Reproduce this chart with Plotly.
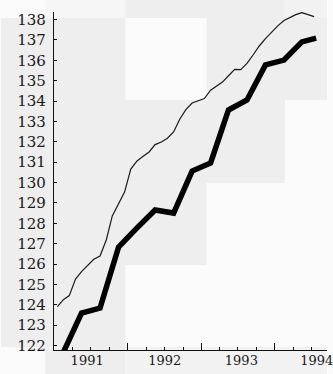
import pandas as pd
import plotly.graph_objects as go

# ---- data ----
monthly_dates = pd.date_range("1991-01-01", periods=43, freq="MS") + pd.Timedelta(days=14)
monthly_values = [
    123.91, 124.26, 124.45, 125.26, 125.63, 125.95, 126.23, 126.39, 127.18, 128.36,
    128.99, 129.53, 130.66, 131.06, 131.28, 131.50, 131.86, 131.99, 132.17, 132.48,
    133.12, 133.58, 133.90, 133.99, 134.12, 134.53, 134.72, 134.93, 135.24, 135.55,
    135.54, 135.85, 136.27, 136.70, 137.06, 137.38, 137.69, 137.95, 138.10, 138.24,
    138.34, 138.24, 138.14,
]
quarter_dates = [
    "1991-02-15", "1991-05-15", "1991-08-15", "1991-11-15",
    "1992-02-15", "1992-05-15", "1992-08-15", "1992-11-15",
    "1993-02-15", "1993-05-15", "1993-08-15", "1993-11-15",
    "1994-02-15", "1994-05-15", "1994-07-25",
]
quarter_values = [
    121.70, 123.59, 123.84, 126.83, 127.77, 128.65, 128.50, 130.56,
    130.96, 133.56, 134.05, 135.77, 136.01, 136.90, 137.09,
]
year_labels = ["1991", "1992", "1993", "1994"]
year_label_dates = ["1991-06-12", "1992-07-02", "1993-07-18", "1994-07-28"]

# ---- layout geometry (pixels) ----
W, H = 333, 374
L, R, T, B = 54, 0, 12, 24
PX0, PX1 = L, W - R
PY0, PY1 = T, H - B
XRANGE = ["1990-12-29", "1994-09-17"]


def rect(x0, y0, x1, y1, color):
    return dict(
        type="rect", xref="paper", yref="paper", layer="below",
        x0=(x0 - PX0) / (PX1 - PX0), x1=(x1 - PX0) / (PX1 - PX0),
        y0=(PY1 - y1) / (PY1 - PY0), y1=(PY1 - y0) / (PY1 - PY0),
        line=dict(width=0), fillcolor=color,
    )


G = "#eeeeee"
G2 = "#f2f2f2"
blocks = [
    (45, 0, 127, 18, "#f6f6f6"), (127, 0, 290, 18, G), (290, 0, 333, 18, G2),
    (0, 18, 127, 100, G), (210, 18, 333, 100, G),
    (0, 100, 290, 183, G),
    (0, 183, 210, 265, G),
    (0, 265, 127, 347, G),
    (45, 347, 127, 374, G), (127, 347, 333, 374, G2),
]
shapes = [rect(*b) for b in blocks]

fig = go.Figure()
fig.add_trace(go.Scatter(
    x=monthly_dates, y=monthly_values, mode="lines", xaxis="x2", yaxis="y",
    line=dict(color="#1a1a1a", width=1.2), showlegend=False, hoverinfo="skip",
))
fig.add_trace(go.Scatter(
    x=quarter_dates, y=quarter_values, mode="lines", xaxis="x", yaxis="y",
    line=dict(color="#000000", width=5.5), showlegend=False, hoverinfo="skip",
))

yfont = dict(family="DejaVu Serif", size=15, color="#1a1a1a")
xfont = dict(family="DejaVu Serif", size=13, color="#1a1a1a")
fig.update_layout(
    width=W, height=H,
    margin=dict(l=L, r=R, t=T, b=B, pad=0),
    paper_bgcolor="#fbfbfb", plot_bgcolor="rgba(0,0,0,0)",
    shapes=shapes,
    showlegend=False,
    xaxis=dict(
        type="date", range=XRANGE,
        tick0="1991-01-01", dtick="M12",
        ticks="inside", ticklen=7, tickwidth=1, tickcolor="#111",
        showticklabels=False,
        minor=dict(dtick="M3", tick0="1991-01-01", ticks="inside", ticklen=3,
                   tickwidth=1, tickcolor="#111", showgrid=False),
        showline=True, linecolor="#111", linewidth=1.2,
        showgrid=False, zeroline=False,
    ),
    xaxis2=dict(
        type="date", range=XRANGE, overlaying="x", anchor="y", side="bottom",
        tickmode="array", tickvals=year_label_dates, ticktext=year_labels,
        ticks="", ticklabelstandoff=1, ticklabeloverflow="allow",
        showgrid=False, zeroline=False, showline=False, tickfont=xfont,
    ),
    yaxis=dict(
        range=[121.78, 138.368], tick0=122, dtick=1,
        ticks="inside", ticklen=3, tickwidth=1, tickcolor="#111",
        showline=True, linecolor="#111", linewidth=1.2,
        showgrid=False, zeroline=False, tickfont=yfont, ticklabelstandoff=4,
    ),
)
fig.write_html(
    "out.html",
    config={"displayModeBar": False},
    post_script="document.body.style.margin='0';document.body.style.background='#fbfbfb';",
)
